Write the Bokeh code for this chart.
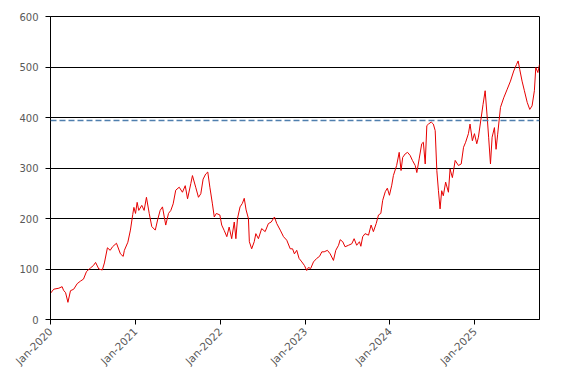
import math
import pandas as pd
from bokeh.plotting import figure
from bokeh.models import FixedTicker, Span, DatetimeTickFormatter, Range1d
from bokeh.embed import file_html
from bokeh.resources import INLINE

# ---- data ----
dates = [
    "2020-01-01", "2020-01-15", "2020-02-06", "2020-02-20", "2020-02-26", "2020-03-06", "2020-03-16", "2020-03-27",
    "2020-04-10", "2020-04-25", "2020-05-09", "2020-05-22", "2020-06-04", "2020-06-21", "2020-07-04", "2020-07-13",
    "2020-07-27", "2020-08-11", "2020-08-20", "2020-09-02", "2020-09-14", "2020-09-24", "2020-10-11", "2020-10-28",
    "2020-11-09", "2020-11-14", "2020-11-29", "2020-12-10", "2020-12-20", "2020-12-25",
    "2021-01-01", "2021-01-08", "2021-01-15", "2021-01-28", "2021-02-07", "2021-02-17", "2021-03-01", "2021-03-12",
    "2021-03-27", "2021-04-06", "2021-04-17", "2021-04-27", "2021-05-11", "2021-05-23", "2021-06-02", "2021-06-12",
    "2021-06-23", "2021-07-08", "2021-07-22", "2021-08-03", "2021-08-13", "2021-08-27", "2021-09-03", "2021-09-17",
    "2021-09-29", "2021-10-09", "2021-10-19", "2021-10-30", "2021-11-08", "2021-11-17", "2021-11-28", "2021-12-06",
    "2021-12-15", "2021-12-30",
    "2022-01-07", "2022-01-18", "2022-01-29", "2022-02-08", "2022-02-19", "2022-03-02", "2022-03-09", "2022-03-16",
    "2022-03-27", "2022-04-06", "2022-04-14", "2022-04-22", "2022-05-02", "2022-05-06", "2022-05-16", "2022-05-27",
    "2022-06-03", "2022-06-14", "2022-06-28", "2022-07-13", "2022-07-27", "2022-08-08", "2022-08-22", "2022-09-01",
    "2022-09-16", "2022-09-30", "2022-10-14", "2022-10-29", "2022-11-08", "2022-11-16", "2022-11-26", "2022-12-06",
    "2022-12-18", "2022-12-29",
    "2023-01-08", "2023-01-15", "2023-01-25", "2023-02-06", "2023-02-20", "2023-03-04", "2023-03-14", "2023-03-24",
    "2023-04-07", "2023-04-19", "2023-05-03", "2023-05-13", "2023-05-25", "2023-06-01", "2023-06-12", "2023-06-22",
    "2023-07-07", "2023-07-21", "2023-07-31", "2023-08-11", "2023-08-23", "2023-08-29", "2023-09-06", "2023-09-16",
    "2023-10-01", "2023-10-12", "2023-10-22", "2023-11-03", "2023-11-13", "2023-11-23", "2023-12-01", "2023-12-12",
    "2023-12-21", "2023-12-30",
    "2024-01-09", "2024-01-16", "2024-01-30", "2024-02-10", "2024-02-18", "2024-02-25", "2024-03-07", "2024-03-17",
    "2024-03-28", "2024-04-07", "2024-04-19", "2024-04-26", "2024-05-06", "2024-05-17", "2024-05-24", "2024-06-01",
    "2024-06-08", "2024-06-15", "2024-06-27", "2024-07-06", "2024-07-14", "2024-07-21", "2024-07-28", "2024-08-04",
    "2024-08-11", "2024-08-18", "2024-08-28", "2024-09-09", "2024-09-16", "2024-09-26", "2024-10-08", "2024-10-22",
    "2024-11-03", "2024-11-13", "2024-11-22", "2024-12-04", "2024-12-11", "2024-12-21", "2024-12-30",
    "2025-01-09", "2025-01-16", "2025-01-28", "2025-02-05", "2025-02-14", "2025-02-23", "2025-03-01", "2025-03-09",
    "2025-03-16", "2025-03-26", "2025-04-02", "2025-04-09", "2025-04-21", "2025-05-05", "2025-05-20", "2025-06-03",
    "2025-06-17", "2025-06-29", "2025-07-06", "2025-07-13", "2025-07-23", "2025-08-02", "2025-08-14", "2025-08-25",
    "2025-09-04", "2025-09-14", "2025-09-20", "2025-09-29", "2025-10-06",
]
prices = [
    52, 60, 62, 65, 58, 53, 34, 57,
    60, 71, 76, 80, 95, 102, 107, 113,
    100, 98, 112, 142, 137, 144, 151, 130,
    125, 137, 153, 177, 208, 222,
    210, 232, 216, 226, 216, 242, 210, 184,
    177, 197, 216, 223, 187, 210, 216, 229,
    256, 262, 252, 265, 239, 269, 285, 262,
    242, 249, 278, 288, 292, 262, 229, 203,
    210, 207,
    187, 176, 164, 183, 160, 193, 160, 200,
    223, 230, 240, 217, 200, 154, 140, 154,
    170, 160, 180, 174, 190, 193, 203, 190,
    177, 164, 157, 140, 140, 130, 137, 121,
    114, 107,
    97, 103, 101, 114, 121, 125, 134, 134,
    137, 130, 117, 137, 147, 158, 154, 144,
    147, 150, 160, 147, 154, 145, 164, 170,
    167, 187, 174, 190, 207, 210, 236, 253,
    260, 246,
    266, 285, 305, 331, 295, 321, 328, 331,
    325, 315, 305, 291, 318, 348, 351, 308,
    384, 387, 391, 387, 374, 295, 255, 219,
    255, 245, 272, 252, 298, 281, 315, 305,
    308, 341, 351, 368, 387, 354, 368,
    348, 361, 400, 426, 453, 400, 361, 308,
    361, 380, 337, 367, 420, 439, 456, 472,
    492, 505, 512, 495, 472, 453, 430, 416,
    423, 453, 499, 489, 505,
]
reference_level = 394
tick_dates = ["2020-01-01", "2021-01-01", "2022-01-01", "2023-01-01", "2024-01-01", "2025-01-01"]
y_ticks = [0, 100, 200, 300, 400, 500, 600]
y_min, y_max = 0, 600

x = pd.to_datetime(dates)
tick_ms = [pd.Timestamp(d).value // 10**6 for d in tick_dates]

p = figure(
    width=559, height=375,
    x_axis_type="datetime",
    output_backend="svg",
    toolbar_location=None,
    min_border_left=50, min_border_right=20, min_border_top=16, min_border_bottom=56,
)
p.x_range = Range1d(x[0], x[-1])
p.y_range = Range1d(y_min, y_max)

p.line(x, prices, line_color="#e60000", line_width=1)

p.add_layout(Span(location=reference_level, dimension="width",
                  line_color="#4f7fae", line_width=1.6, line_dash="6 3"))

p.background_fill_color = "white"
p.border_fill_color = "white"
p.outline_line_color = "black"
p.outline_line_width = 1
p.outline_line_alpha = 1

p.xgrid.visible = False
p.ygrid.grid_line_color = "black"
p.ygrid.grid_line_width = 1
p.ygrid.grid_line_alpha = 1

# y axis
p.yaxis.ticker = FixedTicker(ticks=y_ticks)
p.yaxis.axis_line_color = "black"
p.yaxis.major_tick_line_color = "black"
p.yaxis.major_tick_out = 5
p.yaxis.major_tick_in = 0
p.yaxis.minor_tick_line_color = None
p.yaxis.major_label_text_font = "DejaVu Sans"
p.yaxis.major_label_text_font_size = "10px"
p.yaxis.major_label_text_color = "#595959"
p.yaxis.major_label_standoff = 7

# x axis
p.xaxis.ticker = FixedTicker(ticks=tick_ms)
fmt = "%b-%Y"
p.xaxis.formatter = DatetimeTickFormatter(years=fmt, months=fmt, days=fmt, hours=fmt,
                                          minutes=fmt, seconds=fmt, milliseconds=fmt,
                                          microseconds=fmt, hourmin=fmt, minsec=fmt)
p.xaxis.axis_line_color = "black"
p.xaxis.major_tick_line_color = "black"
p.xaxis.major_tick_out = 5
p.xaxis.major_tick_in = 0
p.xaxis.minor_tick_line_color = None
p.xaxis.major_label_orientation = math.pi / 4
p.xaxis.major_label_text_font = "DejaVu Sans"
p.xaxis.major_label_text_font_size = "10.5px"
p.xaxis.major_label_text_color = "#595959"
p.xaxis.major_label_standoff = 5

open("out.html", "w").write(file_html(p, INLINE))
